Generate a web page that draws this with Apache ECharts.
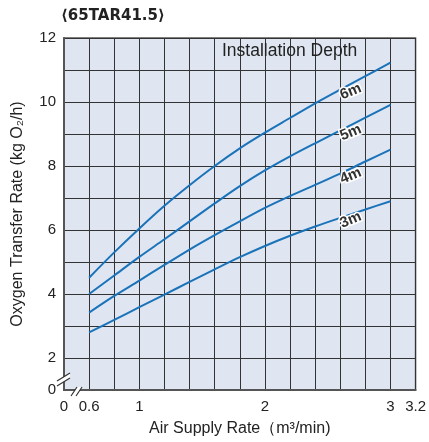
<!DOCTYPE html>
<html>
<head>
<meta charset="utf-8">
<script src="https://cdn.jsdelivr.net/npm/echarts@6/dist/echarts.min.js"></script>
<style>
  html, body { margin: 0; padding: 0; background: #fff; }
  #chart { width: 429px; height: 442px; }
</style>
</head>
<body>
<div id="chart"></div>
<script>
// air supply rate (m3/min)
var airRate = [0.6, 0.8, 1.0, 1.2, 1.4, 1.6, 1.8, 2.0, 2.2, 2.4, 2.6, 2.8, 3.0];
// oxygen transfer rate (kg O2/h) per installation depth
var depth6 = [4.51, 5.30, 6.05, 6.76, 7.40, 8.00, 8.55, 9.04, 9.50, 9.96, 10.39, 10.81, 11.23];
var depth5 = [4.00, 4.58, 5.16, 5.71, 6.27, 6.83, 7.37, 7.86, 8.30, 8.71, 9.11, 9.51, 9.91];
var depth4 = [3.42, 3.94, 4.42, 4.91, 5.39, 5.84, 6.27, 6.69, 7.06, 7.41, 7.76, 8.14, 8.51];
var depth3 = [2.80, 3.19, 3.59, 3.98, 4.38, 4.77, 5.15, 5.50, 5.82, 6.11, 6.38, 6.64, 6.90];
var depthNames = ['6m', '5m', '4m', '3m'];
var xTickLabels = ['0.6', '1', '2', '3', '3.2'];
var yTickLabels = ['2', '4', '6', '8', '10', '12'];

var FONT = "'Liberation Sans', Arial, sans-serif";
var labelAt = 10; // point where the depth label sits

var chart = echarts.init(document.getElementById('chart'));

function makeSeries(name, vals) {
  return {
    name: name,
    type: 'line',
    smooth: 0.3,
    symbol: 'none',
    lineStyle: { color: '#1a73b9', width: 2 },
    data: airRate.map(function (x, i) { return [x, vals[i]]; }),
    markPoint: {
      symbol: 'circle',
      symbolSize: 0,
      silent: true,
      label: {
        show: true,
        formatter: name,
        rotate: 22,
        offset: [9, 6],
        fontFamily: FONT,
        fontWeight: 'bold',
        fontSize: 15,
        color: '#333',
        textBorderColor: '#fff',
        textBorderWidth: 3
      },
      data: [{ coord: [airRate[labelAt], vals[labelAt]] }]
    },
    z: 3
  };
}

// tick helpers: axis min stands in for the broken "0"
function fmtX(v) {
  if (Math.abs(v - 0.4) < 1e-6) return '0';
  for (var i = 0; i < xTickLabels.length; i++) {
    if (Math.abs(v - parseFloat(xTickLabels[i])) < 1e-6) return xTickLabels[i];
  }
  return '';
}
function fmtY(v) {
  if (Math.abs(v - 1) < 1e-6) return '0';
  for (var i = 0; i < yTickLabels.length; i++) {
    if (Math.abs(v - parseFloat(yTickLabels[i])) < 1e-6) return yTickLabels[i];
  }
  return '';
}

chart.setOption({
  animation: false,
  textStyle: { fontFamily: FONT },
  grid: {
    left: 64, right: 12, top: 38, bottom: 51,
    show: true,
    backgroundColor: '#dfe6f2',
    borderColor: '#555',
    borderWidth: 1.5
  },
  xAxis: {
    type: 'value',
    min: 0.4, max: 3.2, interval: 0.2,
    name: 'Air Supply Rate（m³/min)',
    nameLocation: 'middle',
    nameGap: 31,
    nameTextStyle: { fontSize: 16, color: '#222', fontFamily: FONT },
    axisLine: { show: true, lineStyle: { color: '#555', width: 2 } },
    axisTick: { show: false },
    axisLabel: { formatter: fmtX, fontSize: 15, color: '#222', margin: 9, showMinLabel: true, showMaxLabel: true, hideOverlap: false },
    splitLine: { show: true, lineStyle: { color: '#333', width: 1 } }
  },
  yAxis: {
    type: 'value',
    min: 1, max: 12, interval: 1,
    name: 'Oxygen Transfer Rate (kg O₂/h)',
    nameLocation: 'middle',
    nameGap: 38,
    nameTextStyle: { fontSize: 16, color: '#222', fontFamily: FONT },
    axisLine: { show: true, lineStyle: { color: '#555', width: 2 } },
    axisTick: { show: false },
    axisLabel: { formatter: fmtY, fontSize: 15, color: '#222', margin: 8, showMinLabel: true, showMaxLabel: true },
    splitLine: { show: true, lineStyle: { color: '#333', width: 1 } }
  },
  series: [
    makeSeries(depthNames[0], depth6),
    makeSeries(depthNames[1], depth5),
    makeSeries(depthNames[2], depth4),
    makeSeries(depthNames[3], depth3)
  ],
  graphic: [
    {
      type: 'text', left: 61, top: 9, z: 10,
      style: { text: '⟨65TAR41.5⟩', fontFamily: "'DejaVu Sans', sans-serif", fontWeight: 'bold', fontSize: 15, fill: '#222' }
    },
    {
      type: 'text', left: 222, top: 42, z: 10,
      style: { text: 'Installation Depth', fontFamily: FONT, fontSize: 17.5, fill: '#222' }
    },
    // axis break marks
    {
      type: 'polygon', z: 20,
      shape: { points: [[57, 381], [70, 373], [70, 378], [57, 386]] },
      style: { fill: '#fff' }
    },
    { type: 'line', z: 21, shape: { x1: 57, y1: 381, x2: 70, y2: 373 }, style: { stroke: '#333', lineWidth: 1.2 } },
    { type: 'line', z: 21, shape: { x1: 57, y1: 386, x2: 70, y2: 378 }, style: { stroke: '#333', lineWidth: 1.2 } },
    {
      type: 'polygon', z: 20,
      shape: { points: [[71, 396], [77, 387], [82, 387], [76, 396]] },
      style: { fill: '#fff' }
    },
    { type: 'line', z: 21, shape: { x1: 71, y1: 396, x2: 77, y2: 387 }, style: { stroke: '#333', lineWidth: 1.2 } },
    { type: 'line', z: 21, shape: { x1: 76, y1: 396, x2: 82, y2: 387 }, style: { stroke: '#333', lineWidth: 1.2 } }
  ]
});

window.addEventListener('resize', function () { chart.resize(); });
</script>
</body>
</html>
